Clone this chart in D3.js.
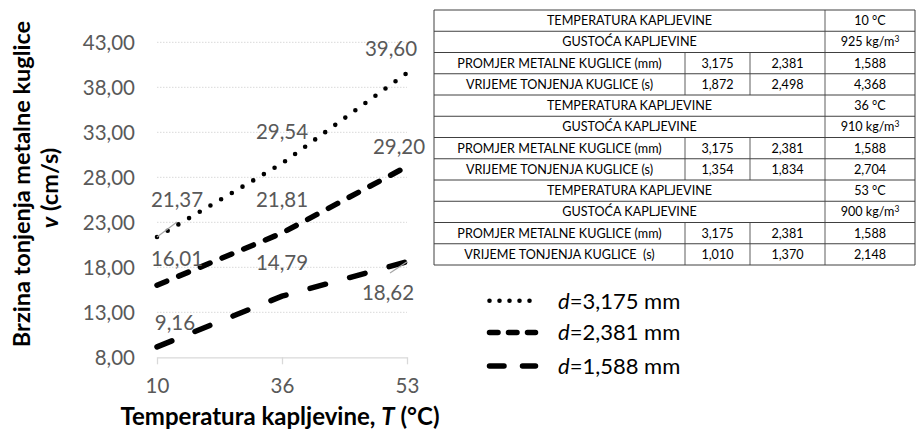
<!DOCTYPE html>
<html>
<head>
<meta charset="utf-8">
<script src="https://cdn.jsdelivr.net/npm/d3@7"></script>
<style>
  html, body { margin: 0; padding: 0; background: #fff; }
  svg { display: block; font-family: Lato, "Open Sans", sans-serif; }
</style>
</head>
<body>
<svg id="chart" width="924" height="433"></svg>
<script>
// ---------- data ----------
const categories = ["10", "36", "53"];
const yTicks = [8, 13, 18, 23, 28, 33, 38, 43];
const seriesNames = ["d=3,175 mm", "d=2,381 mm", "d=1,588 mm"];
const seriesD3175 = [21.37, 29.54, 39.60];
const seriesD2381 = [16.01, 21.81, 29.20];
const seriesD1588 = [9.16, 14.79, 18.62];

// table data
const tableTemps = ["10 °C", "36 °C", "53 °C"];
const tableDensities = ["925", "910", "900"];
const tableDiameters = ["3,175", "2,381", "1,588"];
const tableTimes10 = ["1,872", "2,498", "4,368"];
const tableTimes36 = ["1,354", "1,834", "2,704"];
const tableTimes53 = ["1,010", "1,370", "2,148"];

const fmt = v => v.toFixed(2).replace(".", ",");

// ---------- layout ----------
const svg = d3.select("#chart");
const x = d3.scalePoint().domain(categories).range([157, 407]).padding(0);
const y = d3.scaleLinear().domain([8, 43]).range([357.3, 42.3]);

const grey = "#595959";

// gridlines
svg.append("g").selectAll("line")
  .data(yTicks.filter(t => t > 8))
  .join("line")
  .attr("x1", 157).attr("x2", 407)
  .attr("y1", d => y(d)).attr("y2", d => y(d))
  .attr("stroke", "#d9d9d9").attr("stroke-width", 1)
  .attr("stroke-dasharray", "1.5 1.5");

// y axis (labels only)
const yAxis = d3.axisLeft(y).tickValues(yTicks).tickSize(0).tickPadding(0).tickFormat(fmt);
const gy = svg.append("g").attr("transform", "translate(135,0)").call(yAxis);
gy.select(".domain").remove();
gy.selectAll("text").attr("fill", grey).attr("font-size", 20.5).attr("font-family", "Lato").attr("dy", "0.36em");

// x axis
const xAxis = d3.axisBottom(x).tickSize(7).tickPadding(14).tickSizeOuter(0);
const gx = svg.append("g").attr("transform", `translate(0,${y(8)})`).call(xAxis);
gx.select(".domain").attr("stroke", "#d9d9d9").attr("stroke-width", 1.3);
gx.selectAll(".tick line").attr("stroke", "#d9d9d9").attr("stroke-width", 1.3);
gx.selectAll("text").attr("fill", grey).attr("font-size", 20.5).attr("font-family", "Lato");

// axis titles
svg.append("text")
  .attr("x", 280).attr("y", 425)
  .attr("text-anchor", "middle")
  .attr("font-size", 24).attr("font-weight", "bold").attr("fill", "#000")
  .call(t => {
    t.append("tspan").text("Temperatura kapljevine, ");
    t.append("tspan").attr("font-style", "italic").text("T");
    t.append("tspan").text(" (°C)");
  });

const yTitle = svg.append("g").attr("transform", "translate(0,184)");
yTitle.append("text")
  .attr("transform", "translate(30,0) rotate(-90)")
  .attr("text-anchor", "middle")
  .attr("font-size", 23.5).attr("font-weight", "bold").attr("fill", "#000")
  .text("Brzina tonjenja metalne kuglice");
yTitle.append("text")
  .attr("transform", "translate(58,4) rotate(-90)")
  .attr("text-anchor", "middle")
  .attr("font-size", 23.5).attr("font-weight", "bold").attr("fill", "#000")
  .call(t => {
    t.append("tspan").attr("font-style", "italic").text("v");
    t.append("tspan").text(" (cm/s)");
  });

// series
const series = [
  { name: seriesNames[0], values: seriesD3175, dash: "0 12.4", width: 4.6, legendDash: "0 10" },
  { name: seriesNames[1], values: seriesD2381, dash: "10.5 13", width: 5.5, legendDash: "8.5 10.5" },
  { name: seriesNames[2], values: seriesD1588, dash: "16 25", width: 5.5, legendDash: "14.5 18.5" }
];

const line = d3.line().x((d, i) => x(categories[i])).y(d => y(d));

svg.append("g").selectAll("path")
  .data(series)
  .join("path")
  .attr("d", d => line(d.values))
  .attr("fill", "none")
  .attr("stroke", "#000")
  .attr("stroke-width", d => d.width)
  .attr("stroke-linecap", "round")
  .attr("stroke-dasharray", d => d.dash);

// data labels (offsets from the points)
const labelOffsets = [
  [[20, -37], [0, -32], [-16, -24]],
  [[20, -27], [0, -33], [-8, -20]],
  [[18, -24], [0, -34], [-19, 31]]
];
const labels = [];
series.forEach((s, si) => s.values.forEach((v, i) => {
  labels.push({ v, px: x(categories[i]), py: y(v), dx: labelOffsets[si][i][0], dy: labelOffsets[si][i][1] });
}));
svg.append("g").selectAll("text")
  .data(labels)
  .join("text")
  .attr("x", d => d.px + d.dx)
  .attr("y", d => d.py + d.dy)
  .attr("dy", "0.36em")
  .attr("text-anchor", "middle")
  .attr("font-size", 20.5).attr("fill", grey)
  .text(d => fmt(d.v));

// leader lines
const leaders = [
  { p: labels[0], tx: 177, ty: 222 },
  { p: labels[8], tx: 390, ty: 273 }
];
svg.append("g").selectAll("line")
  .data(leaders)
  .join("line")
  .attr("x1", d => d.p.px).attr("y1", d => d.p.py)
  .attr("x2", d => d.tx).attr("y2", d => d.ty)
  .attr("stroke", "#a6a6a6").attr("stroke-width", 1.2);

// legend
const legend = svg.append("g");
const legY = [300.7, 332.5, 366];
const lg = legend.selectAll("g").data(series).join("g")
  .attr("transform", (d, i) => `translate(0,${legY[i]})`);
lg.append("line")
  .attr("x1", 489.5).attr("x2", 535.5)
  .attr("stroke", "#000")
  .attr("stroke-width", d => d.width)
  .attr("stroke-linecap", "round")
  .attr("stroke-dasharray", d => d.legendDash);
lg.append("text")
  .attr("x", 558).attr("dy", "0.36em")
  .attr("font-size", 22).attr("fill", "#000")
  .each(function(d) {
    const t = d3.select(this);
    t.append("tspan").attr("font-style", "italic").text(d.name.slice(0, 1));
    t.append("tspan").text(d.name.slice(1));
  });

// ---------- table ----------
const tX = [434, 685, 750, 825, 915];
const tTop = 10, rowH = 21.25;
const tableRows = [];
[[tableTemps[0], tableDensities[0], tableTimes10],
 [tableTemps[1], tableDensities[1], tableTimes36],
 [tableTemps[2], tableDensities[2], tableTimes53]].forEach(([temp, dens, times], k) => {
  tableRows.push({ cells: [{ text: "TEMPERATURA KAPLJEVINE", c0: 0, c1: 3 }, { text: temp, c0: 3, c1: 4 }] });
  tableRows.push({ cells: [{ text: "GUSTOĆA KAPLJEVINE", c0: 0, c1: 3 }, { text: dens, sup: true, c0: 3, c1: 4 }] });
  tableRows.push({ cells: [{ text: "PROMJER METALNE KUGLICE (mm)", c0: 0, c1: 1 }]
    .concat(tableDiameters.map((v, j) => ({ text: v, c0: j + 1, c1: j + 2 }))) });
  tableRows.push({ cells: [{ text: k === 2 ? "VRIJEME TONJENJA KUGLICE\u00a0 (s)" : "VRIJEME TONJENJA KUGLICE (s)", c0: 0, c1: 1 }]
    .concat(times.map((v, j) => ({ text: v, c0: j + 1, c1: j + 2 }))) });
});

const table = svg.append("g");
const rowsG = table.selectAll("g").data(tableRows).join("g")
  .attr("transform", (d, i) => `translate(0,${tTop + i * rowH})`);

rowsG.each(function(row) {
  const g = d3.select(this);
  row.cells.forEach(c => {
    if (c.c0 > 0) {
      g.append("line").attr("x1", tX[c.c0]).attr("x2", tX[c.c0])
        .attr("y1", 0).attr("y2", rowH)
        .attr("stroke", "#8c8c8c").attr("stroke-width", 1.4);
    }
    const tx = g.append("text")
      .attr("x", (tX[c.c0] + tX[c.c1]) / 2)
      .attr("y", rowH / 2).attr("dy", "0.36em")
      .attr("text-anchor", "middle")
      .attr("font-size", 12.6).attr("fill", "#000");
    if (c.sup) {
      tx.append("tspan").text(c.text + " kg/m");
      tx.append("tspan").attr("font-size", 8.5).attr("dy", "-0.5em").text("3");
    } else {
      tx.text(c.text);
    }
  });
});

// horizontal lines
table.append("g").selectAll("line")
  .data(d3.range(tableRows.length + 1))
  .join("line")
  .attr("x1", tX[0]).attr("x2", tX[4])
  .attr("y1", i => tTop + i * rowH).attr("y2", i => tTop + i * rowH)
  .attr("stroke", "#404040").attr("stroke-width", 1);
// outer verticals
table.append("g").selectAll("line")
  .data([tX[0], tX[4]])
  .join("line")
  .attr("x1", d => d).attr("x2", d => d)
  .attr("y1", tTop).attr("y2", tTop + tableRows.length * rowH)
  .attr("stroke", "#404040").attr("stroke-width", 1);
</script>
</body>
</html>
